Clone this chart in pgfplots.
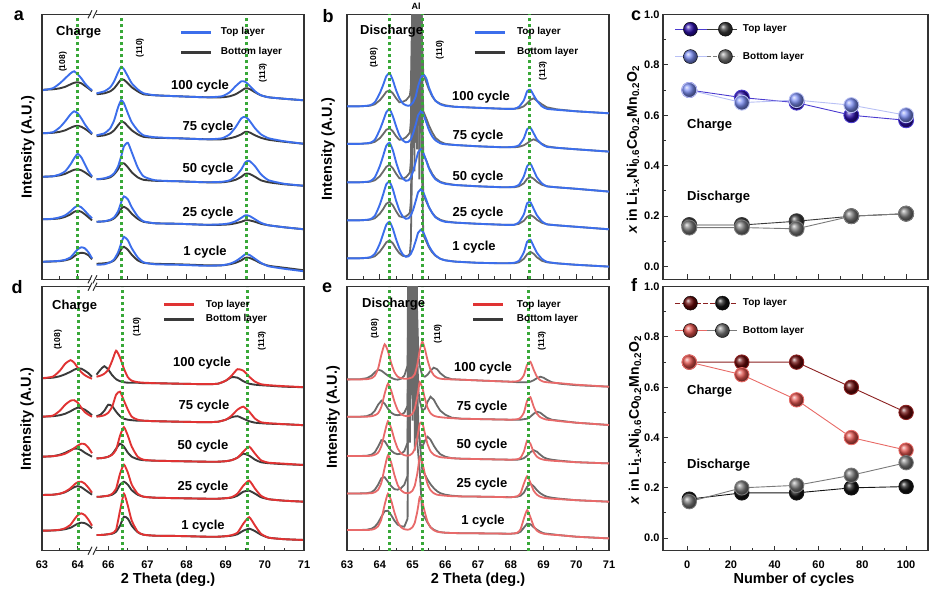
\documentclass[border=0pt]{standalone}
\usepackage{pgfplots}
\pgfplotsset{compat=1.18}
\usepackage{pgfplotstable}
\usepackage{fontspec}
\setmainfont{Liberation Sans}
\newcommand{\ft}[1]{\fontsize{#1}{#1}\selectfont\bfseries}
\definecolor{fr}{HTML}{333333}
\definecolor{bluT}{HTML}{3C6EEB}
\definecolor{blkB}{HTML}{3A3A3A}
\definecolor{gryB}{HTML}{6A6A6A}
\definecolor{redT}{HTML}{E03333}
\definecolor{redE}{HTML}{E86A6A}
\definecolor{grn}{HTML}{38A838}
\definecolor{cTB}{HTML}{2B0FA8}
\definecolor{cLB}{HTML}{7A8CF2}
\definecolor{cDK}{HTML}{3A3A3A}
\definecolor{cGR}{HTML}{7A7A7A}
\definecolor{cLT}{HTML}{4B3BD0}
\definecolor{cLL}{HTML}{B8C0F5}
\definecolor{fTR}{HTML}{6A0A0A}
\definecolor{fLR}{HTML}{E0524C}
\definecolor{fBK}{HTML}{151515}
\definecolor{fLT}{HTML}{8B2020}
\definecolor{fLL}{HTML}{E86A66}
\pgfdeclareplotmark{bTB}{\shade[ball color=cTB] (0pt,0pt) circle (\pgfplotmarksize);}
\pgfdeclareplotmark{bLB}{\shade[ball color=cLB] (0pt,0pt) circle (\pgfplotmarksize);}
\pgfdeclareplotmark{bDK}{\shade[ball color=cDK] (0pt,0pt) circle (\pgfplotmarksize);}
\pgfdeclareplotmark{bGR}{\shade[ball color=cGR] (0pt,0pt) circle (\pgfplotmarksize);}
\pgfdeclareplotmark{bTR}{\shade[ball color=fTR] (0pt,0pt) circle (\pgfplotmarksize);}
\pgfdeclareplotmark{bLR}{\shade[ball color=fLR] (0pt,0pt) circle (\pgfplotmarksize);}
\pgfdeclareplotmark{bBK}{\shade[ball color=fBK] (0pt,0pt) circle (\pgfplotmarksize);}

\pgfplotsset{
 specbase/.style={scale only axis, anchor=south west, ymin=0, ytick=\empty, tick align=inside,
   xtick pos=left, major tick length=5pt, minor tick length=3pt,
   tick style={color=fr, line width=1pt},
   xticklabel style={font=\ft{11}, yshift=-6.5pt}},
 brk/.style={specbase, axis line style={draw=none}},
 boxed/.style={specbase, axis line style={color=fr, line width=1.2pt}},
 spleg/.style={legend style={draw=none, fill=none, inner sep=0pt, outer sep=0pt, font=\ft{10},
   nodes={inner sep=0pt, text height=7pt, text depth=2pt}}, legend cell align=left,
   legend image code/.code={\draw[##1,line width=3pt] (0pt,0pt) -- (30pt,0pt);}},
 mypb/.style={color=bluT, line width=1.9pt, smooth, tension=0.35, forget plot},
 mypk/.style={color=blkB, line width=1.9pt, smooth, tension=0.35, forget plot},
 mypg/.style={color=gryB, line width=1.8pt, forget plot},
 mypr/.style={color=redT, line width=1.9pt, smooth, tension=0.35, forget plot},
 mype/.style={color=redE, line width=1.8pt, smooth, tension=0.35, forget plot},
 mygl/.style={color=grn, line width=3pt, dash pattern=on 3pt off 3pt, forget plot},
 ballax/.style={scale only axis, anchor=south west, width=265pt, xmin=-11, xmax=110, ymin=-0.05, ymax=1.0,
   xtick={0,20,40,60,80,100}, minor xtick={10,30,50,70,90},
   ytick={0,0.2,0.4,0.6,0.8,1.0}, yticklabels={0.0,0.2,0.4,0.6,0.8,1.0},
   minor ytick={0.1,0.3,0.5,0.7,0.9}, tick align=inside, xtick pos=left, ytick pos=left,
   major tick length=5pt, minor tick length=3pt, tick style={color=fr, line width=1pt},
   axis line style={color=fr, line width=1.2pt},
   yticklabel style={font=\ft{11}}, xticklabel style={font=\ft{11}, yshift=-6.5pt},
   legend style={draw=none, fill=none, inner sep=0pt, outer sep=0pt, font=\ft{10},
   row sep=13pt, column sep=5pt, anchor=north west,
   nodes={inner sep=0pt, text height=7pt, text depth=2pt}}, legend cell align=left},
}

% ---------------- panel a ----------------
\pgfplotstableread{
x t100 b100 t75 b75 t50 b50 t25 b25 t1 b1
63.0  189 189.5 146 146 102.5 102.5 60 60 17.5 17.5
63.3  191 190 147 146.5 103 103 60.5 60.3 18 17.8
63.5  196 191 152 147.5 105 104 62 61 18.5 18.2
63.65 201 192.5 158 149 108 105.5 64 62.5 19.5 19
63.8  206 195 165 151.5 115 108 68 65 22 20.5
63.9  208 196.5 168 153 121 109.5 71.5 67.5 26 23
64.0  205 197 166 153.5 125.5 110 73.5 68.5 30 25.5
64.1  201 196 161 152.5 122 109 72 67.5 32 26.5
64.2  196 193.5 155 150.5 115 107 68.5 65 31 26
64.3  192 191 150 148 108 104.5 64.5 62 27 24
64.4  189 188 146 145 103 102 61 59 21 20
}\aL
\pgfplotstableread{
x t100 b100 t75 b75 t50 b50 t25 b25 t1 b1
65.7  186 185 144 143 100 100 57.5 57.5 14.5 15.5
65.9  188 186 146 144 101 100.5 58 58 15 16
66.05 192 188 151 146 103 102 59.5 59 17 17
66.15 198 191 159 149 106 105 62 61 20 19
66.25 207 196 172 154 113 110 68 65 27 24
66.33 212.5 200 179 157.5 123 116 77 70.5 36 30
66.4  210 199.5 176 157 133 116 83 72.5 42.5 32.5
66.5  203 196 166 153 136.5 112 80 70 39 29.5
66.6  196 192 157 149 127 107 72 65.5 31 24.5
66.75 190 188 149 145 112 102 63 60.5 22 19
66.9  186 185 144 142.5 103 99.5 58 57.5 17 16.5
67.2  184 184 142 141.5 99 98.5 56 56 15 15.5
67.8  183 183 141 141 98 98 55.5 55.5 14.5 15
68.5  182 182 140 140 97 97 54.5 54.5 13.5 14
68.9  183 182 141 140 97.5 97 55 54.5 14 14
69.1  187 183 145 141 99 98 56 55 15.5 15
69.25 193 185 152 142.5 103 99.5 58 56 18 16.5
69.4  198 188.5 161 145 110 102.5 61.5 57.5 22 19
69.5  197.5 191 162.5 147.5 117 105.5 64 59 25 21.5
69.6  194 190.5 159 147 118.5 105.5 63.5 59 24.5 21.5
69.75 188 187 151 144 113 102.5 60 57.5 20.5 19
69.9  184 184 145 141.5 105 99 56.5 55.5 16.5 16
70.1  182 182 141 139.5 99 97 54 54 13 13.5
70.5  180.5 180.5 138 137.5 95.5 95 52 52 10.5 11.5
71.0  179 179 135.5 135.5 93.5 93.5 50 50 8 9
}\aR
% ---------------- panel d ----------------
\pgfplotstableread{
x t100 b100 t75 b75 t50 b50 t25 b25 t1 b1
63.0  172.5 172.5 134 134 94 94 55.7 55.7 20 20
63.3  174 173 135 134.5 94.5 94.5 56 56 20.3 20.2
63.5  180 174.5 140 135.5 95.5 96 57 57 21 20.7
63.65 187 176.5 146 137 97 98 59 58.5 22.5 21.5
63.8  190.5 179 150 139.5 100 100.5 62.5 61.5 26 23
63.9  188 181 150.5 141.5 102.5 102 66 63.5 31 25
64.0  183 182.3 148 143 105 102 68.5 64.5 35.5 27
64.1  178.5 182 143 142.5 107 100.5 69 63.5 37.3 28
64.2  175.5 180 138.5 141 106.5 98 67 61 35.5 27.5
64.3  173.5 177.5 136 138.5 103 96 63 58.5 31 25.5
64.4  172 174 134 135.5 97.5 94 58 56 25 22.5
}\dL
\pgfplotstableread{
x t100 b100 t75 b75 t50 b50 t25 b25 t1 b1
65.7  174 176 134 134.5 92.3 92.3 54 54 15.7 15.7
65.8  175 181 134.5 136 92.5 92.5 54 54 15.7 15.7
65.9  177 184.5 135.5 140 93 93 54.5 54.5 16 16
66.0  181 181 138 146 94 94 55 55 16.5 16.5
66.1  190 175.5 144 144.5 96 96.5 57 56 17.5 17
66.2  200 171.5 156 139 101 102 62 59 21 19
66.3  193 169.5 159 134.5 115 107 77 66 40 25
66.4  182 168.5 150 132 123.5 104 86 69 57 34
66.5  173.5 168 141 131 115 98 78 66 45 32
66.6  170 168 134 130.5 104 94 66 60.5 30 25
66.75 168.5 168 131 130 94 91.5 57 56 19 18.5
66.9  168 167.5 130 130 91 90.5 54 54 16 16
67.2  167.5 167.5 129.5 129.5 90 90 53 53 15 15
67.8  167 167 129 129 89.5 89.5 52.5 52.5 14.7 14.7
68.5  166.5 166.5 128.5 128.5 89 89 52 52 14 14
68.8  167 167 129 129 89 89 52 52 14 14
69.0  170 170 131 131 89.5 89.5 52.5 52.5 14.5 14.5
69.15 175 173.5 135 133.5 90.5 90.5 53.5 53 15.5 15
69.3  181.5 173 141 134.5 93 93 57 55 18 16.5
69.45 180 169.5 144 132 99 97 65 59 27 20
69.6  174 167 139 129.5 104 95 70 60 33.5 22
69.75 169 166 132 128 97 91 62 57 25 19.5
69.9  166.5 165.5 128.5 127.5 90.5 88.5 55 53.5 17 16
70.1  165.5 165 127.5 127 88 87.5 51.5 51.5 13 13
70.5  164.5 164 126.5 126.5 87 86.5 50 50 11.5 11.5
71.0  163.5 163.5 125.5 125.5 85.7 85.7 49 49 10.7 10.7
}\dR
% ---------------- panel b ----------------
\pgfplotstableread{
x t100 b100 t75 b75 t50 b50 t25 b25 t1 b1
63.0   173 173 135.5 135.5 97 97 59 59 21 21
63.4   173 173 135.5 135.5 97 97 59 59 21 21
63.7   174 173.5 136.5 136 98 97.5 60 59.5 22 21.5
63.85  177 175 139.5 137.5 102 99 63.5 61 25.5 23
64.0   186 179 149.5 141 113 103 74.5 65.5 35.5 27.5
64.1   194 183 158 145 123 107.5 84.5 70 45 32
64.2   203 187.5 167 149.5 133.5 112.5 95 75.5 54.5 37
64.3   206 189 170 151 136.5 114.5 97.5 77.5 57.5 39
64.4   199 186 163 148 129 111 90 74 50.5 36
64.5   189 181 153 143 117 105.5 78.5 68 40 30.5
64.6   181 177 144 139.5 107 101 69 63 31 26
64.7   176 177.5 139 140 101 100.5 63 62 25 23.5
64.8   174 179 137 142 98.5 102 60.5 63 22.5 23
64.88  173.5 182 137.5 145 99 105 61 65 23 24
64.92  174 184 139 147 100.7 107 62.7 67 24.4 26
64.95  174.5 192 140 158 102 118 64 78 25.5 38
64.985 175.7 260 143 230 105 190 66.7 150 28 110
65.02  177 400 146 400 108 400 69.5 400 30.5 400
65.06  180 235 150.5 200 113 168 74 138 34.5 108
65.1   183 400 155 400 118 400 78.5 400 38.5 400
65.135 188 245 159.5 215 122.5 190 82.7 160 42.5 130
65.17  193 400 164 400 127 400 87 400 46.5 400
65.21  197 228 166 192 128.5 160 88.5 130 48 100
65.25  201 380 168 380 130 380 90 380 49.5 380
65.29  203.5 240 167 210 128.5 175 88.5 140 48.5 105
65.33  205 205 165 168 126.5 125 87 84 47 44
65.42  201 197 157 161 118.5 119 79.5 78 40 38
65.5   192 190 149.5 154 111 112 72.5 72 33.5 32
65.6   184 183 143 147 104.5 105.5 66.5 66.5 28 27
65.7   178.5 178.5 139 141.5 100 101 62 62.5 24 23.5
65.85  175 175.5 136 137.5 97 97.5 59 59.5 20.5 20.5
66.0   173.5 174 135 135.5 95.5 96 57.5 58 19 19
66.3   172.5 172.5 134.3 134.3 94.3 94.3 56.7 56.7 17.7 17.7
67.0   171.5 171.5 133 133 93 93 55.5 55.5 16.5 16.5
67.8   170.5 170.5 132 132 92 92 54.5 54.5 16 16
68.1   170.5 170.5 132.5 132 92.5 92 54.5 54.5 16.5 16
68.25  172.5 171 134 132.5 94.5 93 57 55.5 18.5 17
68.4   179 173 141 134 103 96 65 58.5 27 20.5
68.5   188 176 150 136 113 100.5 76 62.5 37.5 25
68.6   189.5 179.5 151.5 138.5 115.5 102.5 77 64.3 39.5 27.5
68.7   184 181 146 140 109 100.5 70.5 62.5 33 25.5
68.8   178.5 178.5 140 138.5 102 97.5 64 59.5 26.5 22
68.95  173 175 135 135.5 96 94.5 58 56.5 20.5 18.5
69.1   170.5 172 132.5 133 93 93 55 55 17.5 17
69.4   169.5 170 131.5 131.5 92 92 54 54 16 16
70.0   168 168 130 130 90.5 90.5 52.5 52.5 14.5 14.5
71.0   166 166 127.7 127.7 87.7 87.7 50 50 12.7 12.7
}\bT
% ---------------- panel e ----------------
\pgfplotstableread{
x t100 b100 t75 b75 t50 b50 t25 b25 t1 b1
63.0   171.3 171.3 134 134 94.7 94.7 57.3 57.3 20.7 20.7
63.4   171.3 171.5 134 134 94.7 94.7 57.3 57.3 20.7 20.7
63.6   171.5 172.5 134 134.5 94.7 95 57.3 57.5 20.7 21
63.75  172.5 175 134.5 136.5 95 96 57.5 58.5 21 22
63.85  175 178.5 135.5 140 96 98.5 58.5 61 22 24
63.95  182 181 137.5 146 98 104 61 66 24.5 28
64.05  196 180 144 150 104.5 110.5 68 72.5 31.5 34
64.15  206.5 177.5 157 147 118 109.5 83 73.5 46 39.5
64.25  199.5 175 167 142 129.5 104.5 95.5 69 57 40
64.35  187.5 173 160 138 122.5 100 88 64.5 50 35.5
64.45  178.5 171.5 149 136 111 97.5 75.5 61.5 38 30
64.55  174 171 140.5 135.5 102 96.5 65.5 61 28.5 26
64.65  172.5 172 136.5 136 97.5 97 60.5 62.5 23.5 24.5
64.75  172 175 135 138 95.5 99.5 58 66 21.5 24
64.85  172 185 134.5 145 95 108 57.5 75 21 32
64.885 172.2 400 134.7 400 95.2 400 57.7 400 21.2 400
64.92  172.5 235 135 200 95.5 168 58 138 21.5 108
64.96  173 400 136 400 96.5 400 59 400 22.5 400
65.0   173.5 245 137 215 97.5 190 60 160 23.5 130
65.035 175 400 139.5 400 99.7 400 62.5 400 25.7 400
65.07  176.5 228 142 190 102 160 65 130 28 100
65.105 180.5 380 147.5 380 107 380 70.5 380 33 380
65.14  185 240 153 200 112 170 76 140 38 110
65.18  192.5 195 160.7 160 119.5 125 84.7 120 45.7 95
65.22  200 185 168.5 150 127 108 93.5 110 53.5 80
65.3   209 175 163 140 128 104 88 80 48.5 36
65.38  201.5 174 152 142 117 110 76.5 76 38 33
65.46  190.5 176 143 149 106.5 114 66.5 71 29 28
65.55  181 180 137.5 154 99.5 111 60.5 66.5 23.5 23.5
65.65  175.5 183 135 151 96 105 57.5 62.5 20.5 21
65.75  173 181.5 134 145 94.5 100 56 59.5 19 19.5
65.85  172 177.5 133.5 140 93.5 96.5 55.5 57.5 18.5 18.5
66.0   171.5 173.5 133 136 93 94 55 56 18 18
66.2   171.3 171.5 132.5 133 92.5 92.5 54.5 55 17.7 17.7
66.5   171 171 132 132 92 92 54.3 54.3 17.5 17.5
67.2   170 170 131.5 131.5 91.5 91.5 54 54 17.3 17.3
68.0   169 169 131 131 91 91 53.5 53.5 17 17
68.2   169.5 168.5 131.5 131 91.5 91 54.5 54 18 17.5
68.3   171 168.5 133 131 93 91.5 57.5 55 21.5 19
68.4   175.5 168.5 138 131.5 99 92.5 67 58 32 23
68.5   186 168.5 150 132 110 95 74.5 64 40.5 27
68.6   189 169 153.5 134 107 98.5 68 67 33.5 26.5
68.7   181 170.5 144 137 98.5 100.5 60 64.5 24.5 23.5
68.8   174 172.5 137 139 94 99 56 60.5 20 21
68.9   170.5 174 133.5 138 92 96 54 57.5 18 19
69.0   169 173 132 135.5 91 93.5 53 55.5 17 17.5
69.1   168.5 171 131 133 90.5 92 52.5 54 16.5 17
69.25  168 168.5 130.5 131 90 91 52 53 16 16.5
69.5   167.5 167 129.5 130 89.5 90 51.5 52 15.5 15.5
70.0   166 165.5 128 128 88.5 88.5 50.5 50.5 14 14
71.0   164 164 125.7 125.7 87.3 87.3 49 49 12.3 12.3
}\eT

\begin{document}
\begin{tikzpicture}
\path[use as bounding box] (0pt,0pt) rectangle (941pt,594pt);

% ===== a =====
\begin{axis}[brk, at={(42pt,314.7pt)}, width=51.8pt, height=265pt, xmin=63, xmax=64.45, ymax=265,
  xtick={63,64}, minor xtick={63.5}, xticklabels={}]
\pgfplotsinvokeforeach{b100,b75,b50,b25,b1}{\addplot[mypk] table[x=x,y=#1]{\aL};}
\pgfplotsinvokeforeach{t100,t75,t50,t25,t1}{\addplot[mypb] table[x=x,y=#1]{\aL};}
\addplot[mygl] coordinates {(63.98,0) (63.98,265)};
\end{axis}
\begin{axis}[brk, spleg, at={(93.8pt,314.7pt)}, width=210.2pt, height=265pt, xmin=65.63, xmax=71, ymax=265,
  xtick={66,67,68,69,70,71}, minor xtick={66.5,67.5,68.5,69.5,70.5}, xticklabels={},
  legend style={at={(0.410,0.950)}, anchor=north west, row sep=11pt, column sep=8pt}]
\addlegendimage{color=bluT}\addlegendentry{Top layer}
\addlegendimage{color=blkB}\addlegendentry{Bottom layer}
\pgfplotsinvokeforeach{b100,b75,b50,b25,b1}{\addplot[mypk] table[x=x,y=#1]{\aR};}
\pgfplotsinvokeforeach{t100,t75,t50,t25,t1}{\addplot[mypb] table[x=x,y=#1]{\aR};}
\addplot[mygl] coordinates {(66.35,0) (66.35,265)};
\addplot[mygl] coordinates {(69.54,0) (69.54,265)};
\end{axis}

% ===== b =====
\begin{axis}[boxed, spleg, at={(347pt,314.7pt)}, width=262pt, height=265pt, xmin=63, xmax=71, ymax=265,
  xtick={63,64,65,66,67,68,69,70,71}, minor x tick num=1, xticklabels={},
  legend style={at={(0.481,0.950)}, anchor=north west, row sep=11pt, column sep=11pt}]
\addlegendimage{color=bluT}\addlegendentry{Top layer}
\addlegendimage{color=blkB}\addlegendentry{Bottom layer}
\pgfplotsinvokeforeach{b100,b75,b50,b25,b1}{\addplot[mypg] table[x=x,y=#1]{\bT};}
\pgfplotsinvokeforeach{t100,t75,t50,t25,t1}{\addplot[mypb] table[x=x,y=#1]{\bT};}
\addplot[mygl] coordinates {(64.3,0) (64.3,265)};
\addplot[mygl] coordinates {(65.31,0) (65.31,265)};
\addplot[mygl] coordinates {(68.57,0) (68.57,265)};
\end{axis}

% ===== c =====
\begin{axis}[ballax, at={(663pt,314.7pt)}, height=265pt, xticklabels={},
  legend style={at={(0.045,0.971)}}]
\addlegendimage{legend image code/.code={
  \draw[cLT, line width=1pt] (0pt,0pt) -- (32pt,0pt);
  \draw[cDK, line width=1pt] (32pt,0pt) -- (62pt,0pt);
  \shade[ball color=cTB] (15pt,0pt) circle (7pt);
  \shade[ball color=cDK] (50pt,0pt) circle (7pt);}}
\addlegendentry{Top layer}
\addlegendimage{legend image code/.code={
  \draw[cLL, line width=1pt] (0pt,0pt) -- (32pt,0pt);
  \draw[cGR, line width=1pt, dash pattern=on 4pt off 2pt] (32pt,0pt) -- (62pt,0pt);
  \shade[ball color=cLB] (15pt,0pt) circle (7pt);
  \shade[ball color=cGR] (50pt,0pt) circle (7pt);}}
\addlegendentry{Bottom layer}
\addplot[color=cLT, line width=0.9pt, mark=bTB, mark size=7.5pt, forget plot] coordinates {(1,0.70) (25,0.67) (50,0.65) (75,0.60) (100,0.58)};
\addplot[color=cLL, line width=0.9pt, mark=bLB, mark size=7.5pt, forget plot] coordinates {(1,0.70) (25,0.65) (50,0.66) (75,0.64) (100,0.60)};
\addplot[color=cDK, line width=0.9pt, mark=bDK, mark size=7.5pt, forget plot] coordinates {(1,0.165) (25,0.165) (50,0.18) (75,0.20) (100,0.21)};
\addplot[color=cGR, line width=0.9pt, mark=bGR, mark size=7.5pt, forget plot] coordinates {(1,0.155) (25,0.155) (50,0.15) (75,0.20) (100,0.21)};
\end{axis}

% ===== d =====
\begin{axis}[brk, at={(42pt,43.3pt)}, width=51.8pt, height=264pt, xmin=63, xmax=64.45, ymax=264,
  xtick={63,64}, minor xtick={63.5}, xticklabels={63,64}]
\pgfplotsinvokeforeach{b100,b75,b50,b25,b1}{\addplot[mypk] table[x=x,y=#1]{\dL};}
\pgfplotsinvokeforeach{t100,t75,t50,t25,t1}{\addplot[mypr] table[x=x,y=#1]{\dL};}
\addplot[mygl] coordinates {(64.02,0) (64.02,264)};
\end{axis}
\begin{axis}[brk, spleg, at={(93.8pt,43.3pt)}, width=210.2pt, height=264pt, xmin=65.63, xmax=71, ymax=264,
  xtick={66,67,68,69,70,71}, minor xtick={66.5,67.5,68.5,69.5,70.5}, xticklabels={66,67,68,69,70,71},
  legend style={at={(0.329,0.948)}, anchor=north west, row sep=5.3pt, column sep=10pt}]
\addlegendimage{color=redT}\addlegendentry{Top layer}
\addlegendimage{color=blkB}\addlegendentry{Bottom layer}
\pgfplotsinvokeforeach{b100,b75,b50,b25,b1}{\addplot[mypk] table[x=x,y=#1]{\dR};}
\pgfplotsinvokeforeach{t100,t75,t50,t25,t1}{\addplot[mypr] table[x=x,y=#1]{\dR};}
\addplot[mygl] coordinates {(66.36,0) (66.36,264)};
\addplot[mygl] coordinates {(69.55,0) (69.55,264)};
\end{axis}

% ===== e =====
\begin{axis}[boxed, spleg, at={(347pt,43.3pt)}, width=262pt, height=264pt, xmin=63, xmax=71, ymax=264,
  xtick={63,64,65,66,67,68,69,70,71}, minor x tick num=1, xticklabels={63,64,65,66,67,68,69,70,71},
  legend style={at={(0.477,0.948)}, anchor=north west, row sep=5.3pt, column sep=12pt}]
\addlegendimage{color=redT}\addlegendentry{Top layer}
\addlegendimage{color=blkB}\addlegendentry{Bottom layer}
\pgfplotsinvokeforeach{b100,b75,b50,b25,b1}{\addplot[mypg] table[x=x,y=#1]{\eT};}
\pgfplotsinvokeforeach{t100,t75,t50,t25,t1}{\addplot[mype] table[x=x,y=#1]{\eT};}
\addplot[mygl] coordinates {(64.3,0) (64.3,264)};
\addplot[mygl] coordinates {(65.3,0) (65.3,264)};
\addplot[mygl] coordinates {(68.55,0) (68.55,264)};
\end{axis}

% ===== f =====
\begin{axis}[ballax, at={(663pt,43.3pt)}, height=264pt, xticklabels={0,20,40,60,80,100},
  legend style={at={(0.045,0.965)}}]
\addlegendimage{legend image code/.code={
  \draw[fLT, line width=1pt, dash pattern=on 5pt off 2pt] (0pt,0pt) -- (62pt,0pt);
  \shade[ball color=fTR] (15pt,0pt) circle (7pt);
  \shade[ball color=fBK] (47pt,0pt) circle (7pt);}}
\addlegendentry{Top layer}
\addlegendimage{legend image code/.code={
  \draw[fLL, line width=1pt] (0pt,0pt) -- (32pt,0pt);
  \draw[cGR, line width=1pt] (32pt,0pt) -- (62pt,0pt);
  \shade[ball color=fLR] (15pt,0pt) circle (7pt);
  \shade[ball color=cGR] (47pt,0pt) circle (7pt);}}
\addlegendentry{Bottom layer}
\addplot[color=fLT, line width=0.9pt, mark=bTR, mark size=7.2pt, forget plot] coordinates {(1,0.70) (25,0.70) (50,0.70) (75,0.60) (100,0.50)};
\addplot[color=fLL, line width=0.9pt, mark=bLR, mark size=7.2pt, forget plot] coordinates {(1,0.70) (25,0.65) (50,0.55) (75,0.40) (100,0.35)};
\addplot[color=fBK, line width=0.9pt, mark=bBK, mark size=7.2pt, forget plot] coordinates {(1,0.155) (25,0.18) (50,0.18) (75,0.20) (100,0.205)};
\addplot[color=cGR, line width=0.9pt, mark=bGR, mark size=7.2pt, forget plot] coordinates {(1,0.145) (25,0.20) (50,0.21) (75,0.25) (100,0.30)};
\end{axis}

% ===== frames for broken axes =====
\begin{scope}[fr, line width=1.2pt]
\draw (91pt,579.7pt) -- (42pt,579.7pt) -- (42pt,314.7pt) -- (91pt,314.7pt);
\draw (96pt,579.7pt) -- (304pt,579.7pt) -- (304pt,314.7pt) -- (96pt,314.7pt);
\draw (91pt,307.3pt) -- (42pt,307.3pt) -- (42pt,43.3pt) -- (91pt,43.3pt);
\draw (96pt,307.3pt) -- (304pt,307.3pt) -- (304pt,43.3pt) -- (96pt,43.3pt);
\end{scope}
\begin{scope}[fr, line width=1pt]
\draw (88pt,575.7pt) -- (92pt,583.7pt); \draw (93pt,575.7pt) -- (97pt,583.7pt);
\draw (88pt,310.7pt) -- (92pt,318.7pt); \draw (93pt,310.7pt) -- (97pt,318.7pt);
\draw (88pt,303.3pt) -- (92pt,311.3pt); \draw (93pt,303.3pt) -- (97pt,311.3pt);
\draw (88pt,39.3pt) -- (92pt,47.3pt); \draw (93pt,39.3pt) -- (97pt,47.3pt);
\end{scope}

% ===== texts =====
\node[font=\ft{18}] at (19pt,578pt) {a};
\node[font=\ft{18}] at (328pt,578pt) {b};
\node[font=\ft{18}] at (636pt,578pt) {c};
\node[font=\ft{18}] at (17pt,307pt) {d};
\node[font=\ft{18}] at (327pt,306pt) {e};
\node[font=\ft{18}] at (634pt,309pt) {f};

\node[font=\ft{14.5}, rotate=90] at (28pt,447pt) {Intensity (A.U.)};
\node[font=\ft{14.5}, rotate=90] at (328pt,445pt) {Intensity (A.U.)};
\node[font=\ft{14.5}, rotate=90] at (27pt,175pt) {Intensity (A.U.)};
\node[font=\ft{14.5}, rotate=90] at (333pt,177pt) {Intensity (A.U.)};
\node[font=\ft{14}, rotate=90] at (633pt,444pt) {\textit{x} in Li\textsubscript{1-\textit{x}}Ni\textsubscript{0.6}Co\textsubscript{0.2}Mn\textsubscript{0.2}O\textsubscript{2}};
\node[font=\ft{14}, rotate=90] at (635pt,174pt) {\textit{x} in Li\textsubscript{1-\textit{x}}Ni\textsubscript{0.6}Co\textsubscript{0.2}Mn\textsubscript{0.2}O\textsubscript{2}};

\node[font=\ft{14.5}] at (168pt,14pt) {2 Theta (deg.)};
\node[font=\ft{14.5}] at (478pt,14pt) {2 Theta (deg.)};
\node[font=\ft{14.5}] at (794pt,14pt) {Number of cycles};

\node[font=\ft{13}, anchor=west, inner sep=0pt] at (56pt,562pt) {Charge};
\node[font=\ft{13}, anchor=west, inner sep=0pt] at (360pt,563pt) {Discharge};
\node[font=\ft{13}, anchor=west, inner sep=0pt] at (52pt,288pt) {Charge};
\node[font=\ft{13}, anchor=west, inner sep=0pt] at (362pt,290pt) {Discharge};
\node[font=\ft{13}, anchor=west, inner sep=0pt] at (687pt,469pt) {Charge};
\node[font=\ft{13}, anchor=west, inner sep=0pt] at (687pt,397pt) {Discharge};
\node[font=\ft{13}, anchor=west, inner sep=0pt] at (687pt,203pt) {Charge};
\node[font=\ft{13}, anchor=west, inner sep=0pt] at (687pt,129pt) {Discharge};

\begin{scope}[every node/.style={font=\ft{13}}]
\node at (200pt,508pt) {100 cycle}; \node at (208pt,467pt) {75 cycle};
\node at (208pt,425pt) {50 cycle}; \node at (208pt,381pt) {25 cycle};
\node at (205pt,342pt) {1 cycle};
\node at (481pt,497pt) {100 cycle}; \node at (478pt,458pt) {75 cycle};
\node at (478pt,417pt) {50 cycle}; \node at (478pt,381pt) {25 cycle};
\node at (474pt,347pt) {1 cycle};
\node at (202pt,231pt) {100 cycle}; \node at (204pt,188pt) {75 cycle};
\node at (203pt,148pt) {50 cycle}; \node at (203pt,107pt) {25 cycle};
\node at (203pt,68pt) {1 cycle};
\node at (483pt,226pt) {100 cycle}; \node at (482pt,187pt) {75 cycle};
\node at (482pt,149pt) {50 cycle}; \node at (482pt,110pt) {25 cycle};
\node at (483pt,73pt) {1 cycle};
\end{scope}

\begin{scope}[every node/.style={font=\ft{8.5}, rotate=90}]
\node at (63pt,532pt) {(108)}; \node at (140pt,546pt) {(110)}; \node at (263pt,521pt) {(113)};
\node at (374pt,536pt) {(108)}; \node at (440pt,544pt) {(110)}; \node at (543pt,523pt) {(113)};
\node at (58pt,254pt) {(108)}; \node at (137pt,267pt) {(110)}; \node at (262pt,253pt) {(113)};
\node at (375pt,265pt) {(108)}; \node at (438pt,260pt) {(110)}; \node at (542pt,253pt) {(113)};
\end{scope}
\node[font=\ft{9}] at (416pt,588pt) {Al};
\end{tikzpicture}
\end{document}
